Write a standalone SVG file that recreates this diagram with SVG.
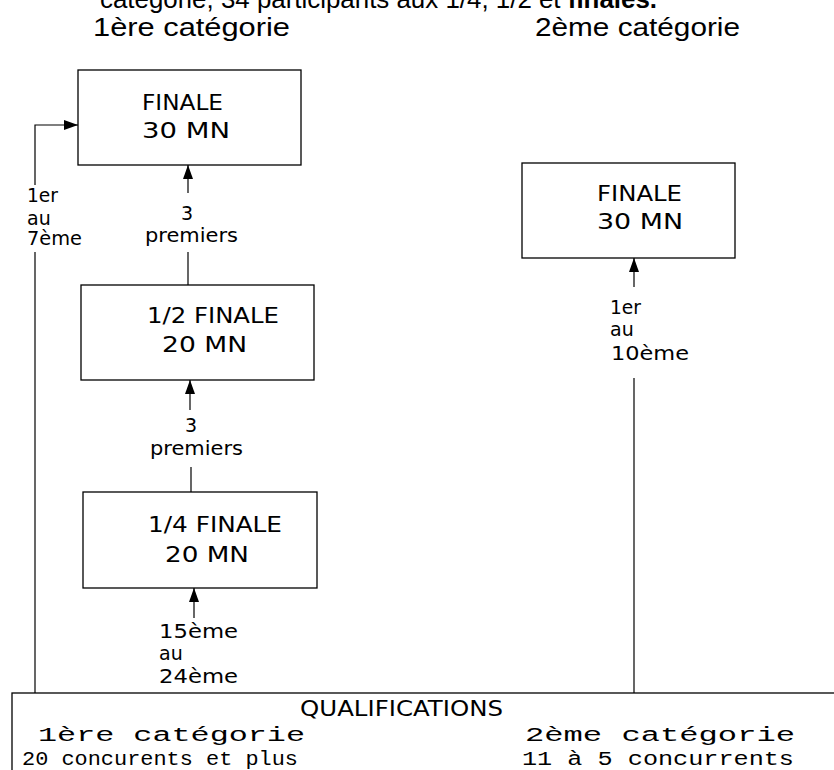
<svg xmlns="http://www.w3.org/2000/svg" width="834" height="770" viewBox="0 0 834 770">
<style>
.box{fill:#fff;stroke:#000;stroke-width:1.3}
.ln{fill:none;stroke:#000;stroke-width:1.2}
.hd{font-family:"Liberation Sans",Arial,sans-serif;font-size:25px;fill:#000}
.bx{font-family:"DejaVu Sans","Liberation Sans",sans-serif;font-size:21px;fill:#000}
.sm{font-family:"DejaVu Sans","Liberation Sans",sans-serif;font-size:19px;fill:#000}
.mono{font-family:"Liberation Mono","Courier New",monospace;font-size:20px;fill:#000}
</style>
<defs>
<marker id="ah" viewBox="0 0 14 10" refX="14" refY="5" markerWidth="14" markerHeight="10" markerUnits="userSpaceOnUse" orient="auto">
<path d="M0,0 L14,5 L0,10 z" fill="#000"/>
</marker>
</defs>
<rect width="834" height="770" fill="#fff"/>
<g id="titles">
<text class="hd" x="100" y="8" textLength="557" lengthAdjust="spacingAndGlyphs">catégorie, 34 participants aux 1/4, 1/2 et <tspan font-weight="bold">finales.</tspan></text>
<text class="hd" x="93" y="36" textLength="197" lengthAdjust="spacingAndGlyphs">1ère catégorie</text>
<text class="hd" x="535" y="36" textLength="205" lengthAdjust="spacingAndGlyphs">2ème catégorie</text>
</g>
<g id="connectors">
<path class="ln" d="M35,693 L35,252"/>
<path class="ln" d="M35,185 L35,125 L78,125" marker-end="url(#ah)"/>
<path class="ln" d="M188,193 L188,165" marker-end="url(#ah)"/>
<path class="ln" d="M188,252 L188,285"/>
<path class="ln" d="M190,410 L190,380" marker-end="url(#ah)"/>
<path class="ln" d="M191,467 L191,492"/>
<path class="ln" d="M194,618 L194,588" marker-end="url(#ah)"/>
<path class="ln" d="M634,287 L634,258" marker-end="url(#ah)"/>
<path class="ln" d="M634,378 L634,693"/>
<g id="labels">
<text class="sm" x="27" y="202" textLength="31" lengthAdjust="spacingAndGlyphs">1er</text>
<text class="sm" x="27" y="225">au</text>
<text class="sm" x="27" y="245" textLength="55" lengthAdjust="spacingAndGlyphs">7ème</text>
<text class="sm" x="181" y="220">3</text>
<text class="sm" x="145" y="242" textLength="93" lengthAdjust="spacingAndGlyphs">premiers</text>
<text class="sm" x="185" y="432">3</text>
<text class="sm" x="150" y="455" textLength="93" lengthAdjust="spacingAndGlyphs">premiers</text>
<text class="sm" x="159" y="638" textLength="79" lengthAdjust="spacingAndGlyphs">15ème</text>
<text class="sm" x="159" y="660">au</text>
<text class="sm" x="159" y="683" textLength="79" lengthAdjust="spacingAndGlyphs">24ème</text>
<text class="sm" x="610" y="314" textLength="31" lengthAdjust="spacingAndGlyphs">1er</text>
<text class="sm" x="610" y="336">au</text>
<text class="sm" x="611" y="360" textLength="78" lengthAdjust="spacingAndGlyphs">10ème</text>
</g>
</g>
<g id="finale1">
<rect class="box" x="78" y="70" width="223" height="95"/>
<text class="bx" x="142" y="110" textLength="81" lengthAdjust="spacingAndGlyphs">FINALE</text>
<text class="bx" x="142" y="138" textLength="88" lengthAdjust="spacingAndGlyphs">30 MN</text>
</g>
<g id="demi">
<rect class="box" x="81" y="285" width="233" height="95"/>
<text class="bx" x="147" y="323" textLength="132" lengthAdjust="spacingAndGlyphs">1/2 FINALE</text>
<text class="bx" x="162" y="352" textLength="85" lengthAdjust="spacingAndGlyphs">20 MN</text>
</g>
<g id="quart">
<rect class="box" x="83" y="492" width="234" height="96"/>
<text class="bx" x="148" y="532" textLength="134" lengthAdjust="spacingAndGlyphs">1/4 FINALE</text>
<text class="bx" x="165" y="562" textLength="84" lengthAdjust="spacingAndGlyphs">20 MN</text>
</g>
<g id="finale2">
<rect class="box" x="522" y="163" width="213" height="95"/>
<text class="bx" x="597" y="201" textLength="85" lengthAdjust="spacingAndGlyphs">FINALE</text>
<text class="bx" x="597" y="229" textLength="86" lengthAdjust="spacingAndGlyphs">30 MN</text>
</g>
<g id="qualifications">
<rect class="box" x="12" y="693" width="840" height="100"/>
<text class="bx" x="300" y="716" textLength="203" lengthAdjust="spacingAndGlyphs">QUALIFICATIONS</text>
<text class="mono" x="38" y="741" textLength="267" lengthAdjust="spacingAndGlyphs">1ère catégorie</text>
<text class="mono" x="22" y="765" textLength="276" lengthAdjust="spacingAndGlyphs">20 concurents et plus</text>
<text class="mono" x="525" y="741" textLength="270" lengthAdjust="spacingAndGlyphs">2ème catégorie</text>
<text class="mono" x="522" y="765" textLength="272" lengthAdjust="spacingAndGlyphs">11 à 5 concurrents</text>
</g>
</svg>
